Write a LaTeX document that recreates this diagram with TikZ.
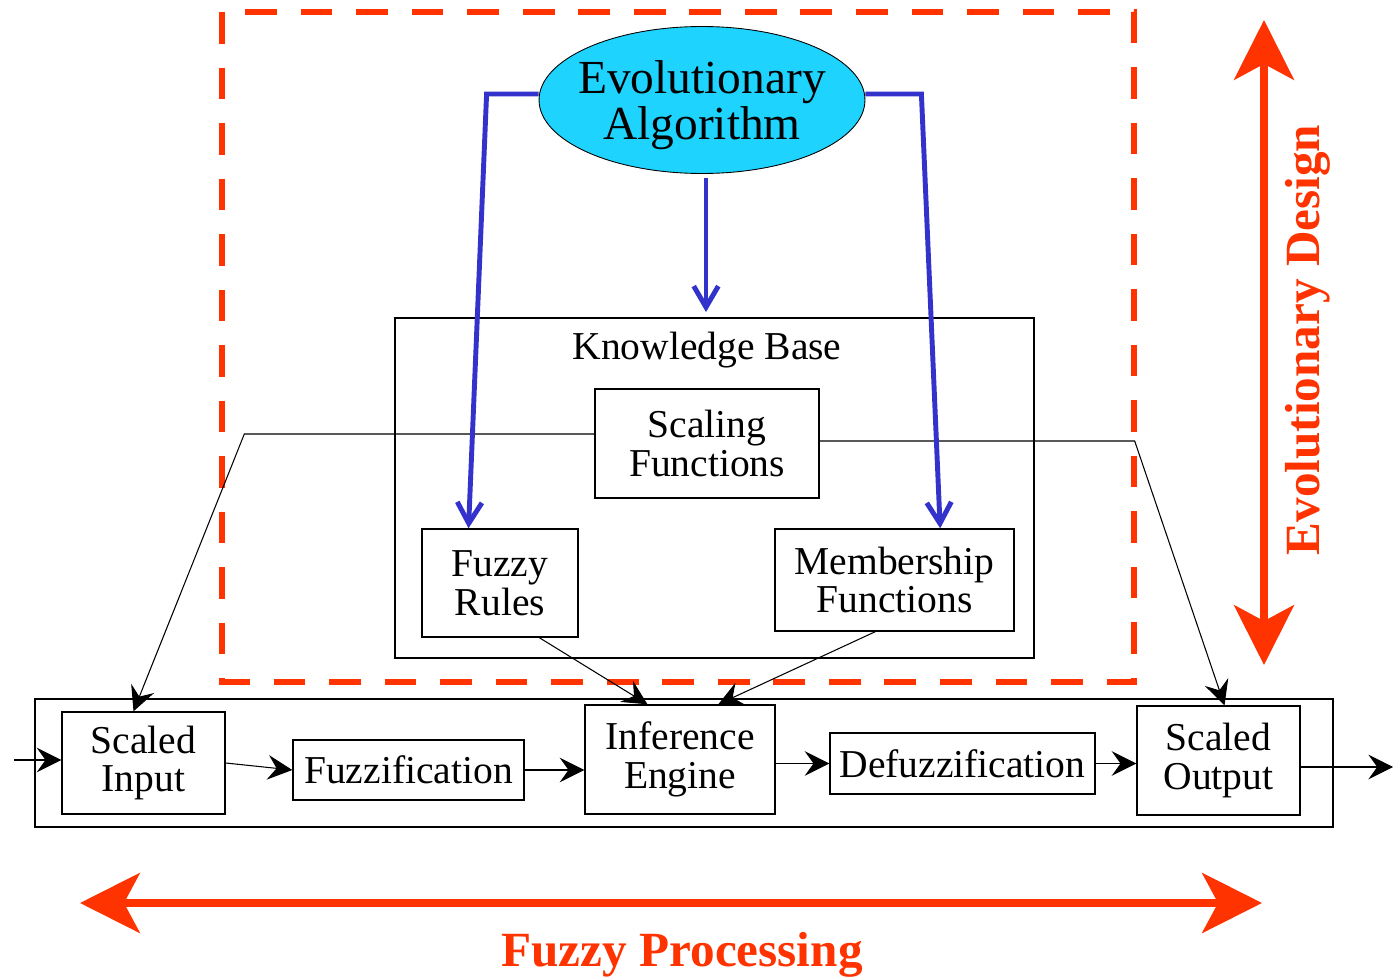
\documentclass[tikz,border=0pt]{standalone}
\usepackage{fontspec}
\setmainfont{Liberation Serif}
\usetikzlibrary{arrows.meta,calc,shapes.geometric}
\definecolor{rouge}{RGB}{255,51,0}
\definecolor{bleu}{RGB}{51,51,204}
\definecolor{ciel}{RGB}{30,212,255}
\tikzstyle{bloc} = [rectangle, draw=black, line width=0.8pt, align=center, inner sep=0pt, font=\fontsize{22.5}{22}\selectfont]
\tikzstyle{fleche} = [-{Stealth[length=14pt,width=14pt,inset=5pt]}, line width=0.6pt]
\tikzstyle{bleue} = [-{Straight Barb[length=12pt,width=14pt]}, draw=bleu, line width=2.8pt]
\tikzstyle{axerouge} = [{Stealth[length=34pt,width=34pt,inset=9pt]}-{Stealth[length=34pt,width=34pt,inset=9pt]}, draw=rouge, line width=4.5pt]
\tikzstyle{titrerouge} = [text=rouge, font=\fontsize{28}{28}\bfseries\selectfont]

\begin{document}
\begin{tikzpicture}[x=0.02cm, y=-0.02cm]
    \useasboundingbox (0,0) rectangle (1400,980);

    % partie conception evolutionnaire
    \draw [rouge, line width=3.4pt, dash pattern=on 18pt off 13.6pt] (222,12) rectangle (1134,682);
    \node [ellipse, draw=black, line width=0.5pt, fill=ciel, minimum width=6.52cm, minimum height=2.94cm, inner sep=0pt,
           label={[align=center, yshift=-3pt, font=\fontsize{27}{26}\selectfont]center:Evolutionary\\Algorithm}] (ea) at (702,100) {};

    \node [bloc, minimum width=12.78cm, minimum height=6.8cm] (kb) at (714.5,488) {};
    \node [font=\fontsize{22.5}{22}\selectfont] (kbtitre) at (707,350) {Knowledge Base};
    \node [bloc, minimum width=4.48cm, minimum height=2.18cm] (scal) at (707,443.5) {Scaling\\Functions};
    \node [bloc, minimum width=3.12cm, minimum height=2.16cm] (rules) at (500,583) {Fuzzy\\Rules};
    \node [bloc, minimum width=4.78cm, minimum height=2.04cm] (memb) at (894.5,580) {Membership\\Functions};

    % chaine de traitement flou
    \node [bloc, minimum width=25.96cm, minimum height=2.56cm] (proc) at (684,763) {};
    \node [bloc, minimum width=3.26cm, minimum height=2.04cm] (sin) at (143.5,763) {Scaled\\Input};
    \node [bloc, minimum width=4.62cm, minimum height=1.2cm] (fuzz) at (408.5,770) {Fuzzification};
    \node [bloc, minimum width=3.8cm, minimum height=2.18cm] (inf) at (680,759.5) {Inference\\Engine};
    \node [bloc, minimum width=5.3cm, minimum height=1.22cm] (defuzz) at (962.5,763.5) {Defuzzification};
    \node [bloc, minimum width=3.26cm, minimum height=2.18cm] (sout) at (1218.5,760.5) {Scaled\\Output};

    \coordinate (entree) at (14,760);
    \coordinate (sortie) at (1393,767);

    \draw [fleche] (entree) -- (entree -| sin.west);
    \draw [fleche] (sin.east) -- (fuzz.west);
    \draw [fleche] (fuzz.east) -- (fuzz.east -| inf.west);
    \draw [fleche] (defuzz.west -| inf.east) -- (defuzz.west);
    \draw [fleche] (defuzz.east) -- (defuzz.east -| sout.west);
    \draw [fleche] (sout.east |- sortie) -- (sortie);

    \draw [fleche] ($(scal.west)+(0,-9.5)$) -- ++(-350,0) -- ($(sin.north)+(-10,0)$);
    \draw [fleche] ($(scal.east)+(0,-2.5)$) -- ++(315,0) -- ($(sout.north)+(6,0)$);
    \draw [fleche] ($(rules.south)!0.5!(rules.south east)$) -- ($(inf.north west)!0.33!(inf.north east)$);
    \draw [fleche] ($(memb.south west)!0.42!(memb.south east)$) -- ($(inf.north west)!0.7!(inf.north east)$);

    % fleches bleues
    \draw [bleue] ($(ea.west)+(0,-6)$) -- ++(-52,0) -- ($(rules.north west)!0.3!(rules.north east)$);
    \draw [bleue] ($(ea.east)+(0,-6)$) -- ++(56,0) -- ($(memb.north west)!0.69!(memb.north east)$);
    \draw [bleue, shorten >=3pt] ($(ea.south)+(4,4)$) -- ($(ea.south |- kb.north)+(4,0)$);

    % axes
    \coordinate (haut) at (1264,20);
    \coordinate (bas) at (1264,665);
    \coordinate (gauche) at (80,903);
    \coordinate (droite) at (1262,903);
    \draw [axerouge] (haut) -- (bas);
    \draw [axerouge] (gauche) -- (droite);
    \node [titrerouge, rotate=90] (evo) at (1308,340) {Evolutionary Design};
    \node [titrerouge] (flou) at (682,955) {Fuzzy Processing};
\end{tikzpicture}
\end{document}
